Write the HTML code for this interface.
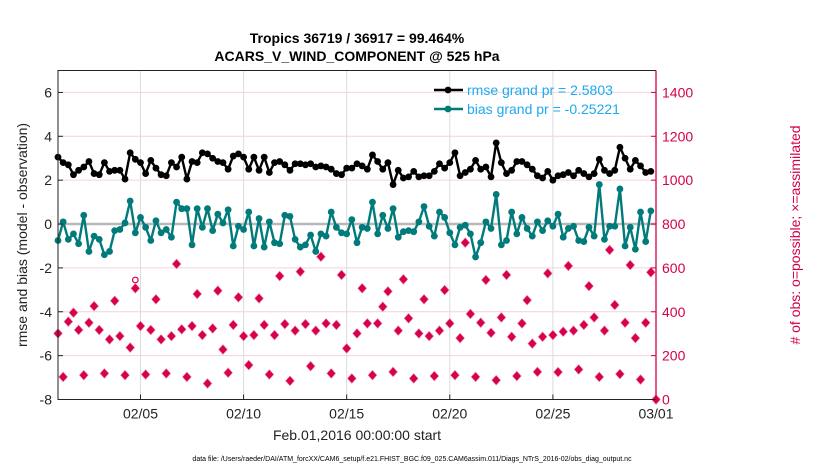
<!DOCTYPE html>
<html><head><meta charset="utf-8"><style>
html,body{margin:0;padding:0;background:#fff;}
svg{display:block;font-family:"Liberation Sans",sans-serif;}
</style></head><body>
<svg id="chart" width="830" height="470" viewBox="0 0 830 470" xmlns="http://www.w3.org/2000/svg">
<rect width="830" height="470" fill="#fff"/>
<text x="357" y="43" text-anchor="middle" font-size="14" font-weight="bold">Tropics 36719 / 36917 = 99.464%</text>
<text x="357" y="61" text-anchor="middle" font-size="14" font-weight="bold">ACARS_V_WIND_COMPONENT @ 525 hPa</text>
<g id="grid"></g>
<g id="obs"></g>
<g id="lines"></g>
<g id="axes"></g>
<g id="legend"></g>
<text transform="translate(27,235) rotate(-90)" text-anchor="middle" font-size="14" fill="#222">rmse and bias (model - observation)</text>
<text transform="translate(800,235) rotate(-90)" text-anchor="middle" font-size="14" fill="#d4004c"># of obs: o=possible; ×=assimilated</text>
<text x="357" y="440" text-anchor="middle" font-size="14" fill="#222">Feb.01,2016 00:00:00 start</text>
<text x="412" y="461" text-anchor="middle" font-size="7" fill="#000">data file: /Users/raeder/DAI/ATM_forcXX/CAM6_setup/f.e21.FHIST_BGC.f09_025.CAM6assim.011/Diags_NTrS_2016-02/obs_diag_output.nc</text>
</svg>
<script>
const rmse = [3.05,2.8,2.7,2.25,2.45,2.6,2.85,2.3,2.25,2.8,2.4,2.45,2.45,2.05,3.25,2.95,2.8,2.3,2.9,2.55,2.25,2.2,2.8,2.6,3.05,2.05,2.85,2.8,3.25,3.2,3.0,2.85,2.8,2.5,3.1,3.2,3.05,2.5,3.05,2.45,3.05,2.35,2.8,2.85,2.7,2.45,2.75,2.75,2.7,2.75,2.6,2.65,2.6,2.5,2.3,2.25,
2.55,2.55,2.75,2.65,2.5,3.15,2.85,2.5,2.8,1.8,2.45,2.1,2.15,2.4,2.15,2.2,2.2,2.4,2.75,2.55,2.8,3.25,2.2,2.35,2.5,2.9,2.5,2.6,2.15,3.7,2.8,2.3,2.45,2.85,2.85,2.7,2.5,2.2,2.1,2.4,2.0,2.2,2.25,2.35,2.2,2.45,2.3,2.15,2.3,2.95,2.45,2.3,2.45,3.5,3.0,2.5,2.9,2.65,2.35,2.4];
const bias = [-0.75,0.1,-0.7,-0.45,-0.9,0.4,-1.25,-0.55,-0.7,-1.4,-1.25,-0.3,-0.25,0.05,1.05,-0.4,0.3,-0.15,-0.75,0.15,-0.4,-0.25,-0.6,1.0,0.7,0.7,-0.95,0.7,-0.15,0.7,-0.3,0.45,0.05,0.65,-1.0,-0.1,-0.25,0.55,-1.0,0.25,-1.05,0.1,-0.85,-0.9,0.4,0.35,-0.7,-1.05,-0.95,-0.5,-1.25,-0.45,-0.55,0.55,-0.15,-0.4,
-0.45,0.2,-0.85,-0.15,-0.2,1.0,-0.45,0.4,-0.2,0.7,-0.6,-0.35,-0.3,-0.35,0.1,0.8,-0.1,-0.55,0.55,0.3,-0.4,-0.95,-0.15,-0.05,-0.45,-1.5,-0.85,0.1,-0.2,1.35,-0.95,-0.75,0.55,-0.45,0.3,-0.2,-0.55,0.1,-0.3,0.15,-0.1,0.45,-0.6,-0.2,-0.1,-0.75,-0.8,-0.15,-0.55,1.8,-0.7,-0.1,-0.1,1.6,-1.0,-0.15,-1.15,0.55,-0.8,0.6];
const obsUsed = [301,103,355,396,317,111,350,426,317,119,274,450,289,111,237,507,335,114,317,457,274,119,289,618,320,103,335,481,294,73,324,496,228,122,340,466,289,157,294,461,340,114,294,563,344,85,314,583,344,152,314,651,347,119,340,568,
233,96,301,507,347,111,347,423,493,126,314,548,370,96,301,457,289,107,314,499,347,111,280,715,390,103,350,545,304,88,374,568,286,107,347,453,255,126,286,575,294,125,309,609,314,137,340,517,374,103,314,682,431,116,350,613,280,91,350,580,0];
const obsPossible = obsUsed.map((v,i)=> i===15 ? 545 : v);
const xTickLabels = ["02/05","02/10","02/15","02/20","02/25","03/01"];
const xTickDays = [4,9,14,19,24,29];
const yTicksLeft = [-8,-6,-4,-2,0,2,4,6];
const yTicksRight = [0,200,400,600,800,1000,1200,1400];
const stepDays = 0.25;

const NS="http://www.w3.org/2000/svg";
const X0=58,X1=656,Y0=70.5,Y1=399.5;
const xs=d=>X0+(d/29)*(X1-X0);
const ys=v=>Y1-(v+8)/15*(Y1-Y0);
const yr=n=>ys(-8+n/100);
function mk(tag,attrs,parent){const e=document.createElementNS(NS,tag);for(const k in attrs)e.setAttribute(k,attrs[k]);parent.appendChild(e);return e;}
const grid=document.getElementById('grid'),axes=document.getElementById('axes'),lines=document.getElementById('lines'),obs=document.getElementById('obs'),legend=document.getElementById('legend');

xTickDays.forEach((d,i)=>{
  const g=mk('line',{x1:xs(d),x2:xs(d),y1:Y0,y2:Y1,stroke:'#dcdcdc','stroke-width':1},grid);
  
  
  const t=mk('line',{x1:xs(d),x2:xs(d),y1:Y1,y2:Y1-5,stroke:'#222','stroke-width':1},axes);
  
  
  const l=mk('text',{x:xs(d),y:Y1+19,'text-anchor':'middle','font-size':14,fill:'#222'},axes);
  l.textContent=xTickLabels[i];
  
  
});
yTicksLeft.forEach(v=>{
  if(v!==-8&&v!==0){const g=mk('line',{x1:X0,x2:X1,y1:ys(v),y2:ys(v),stroke:'#f0d4dc','stroke-width':1},grid);
  
  }
  const t=mk('line',{x1:X0,x2:X0+5,y1:ys(v),y2:ys(v),stroke:'#222'},axes);
  
  
  const l=mk('text',{x:X0-6,y:ys(v)+5,'text-anchor':'end','font-size':14,fill:'#222'},axes);
  l.textContent=v;
  
  
});
yTicksRight.forEach(n=>{
  const t=mk('line',{x1:X1,x2:X1-5,y1:yr(n),y2:yr(n),stroke:'#d4004c'},axes);
  
  
  const l=mk('text',{x:X1+6,y:yr(n)+5,'font-size':14,fill:'#d4004c'},axes);
  l.textContent=n;
  
  
});
const zl=mk('line',{x1:X0,x2:X1,y1:ys(0),y2:ys(0),stroke:'#b8b8b8','stroke-width':2.5},grid);



const ab=mk('path',{d:`M${X1},${Y0}H${X0}V${Y1}H${X1}`,fill:'none',stroke:'#222','stroke-width':1},axes);


const ar=mk('line',{x1:X1,x2:X1,y1:Y0,y2:Y1,stroke:'#d4004c','stroke-width':1.3},axes);



const red='#d6004f';
obsPossible.forEach((n,i)=>{
  const c=mk('circle',{cx:xs(i*stepDays),cy:yr(n),r:2.8,fill:'none',stroke:red,'stroke-width':1.2},obs);
  
  
});
obsUsed.forEach((n,i)=>{
  const x=xs(i*stepDays),y=yr(n);
  const p=mk('path',{d:`M${x},${y-5}L${x+4.5},${y}L${x},${y+5}L${x-4.5},${y}Z`,fill:red,stroke:'#f3a0bc','stroke-width':0.6},obs);
  
  
});

function series(vals,color,name){
  const d=vals.map((v,i)=>(i?'L':'M')+xs(i*stepDays).toFixed(2)+','+ys(v).toFixed(2)).join('');
  const pl=mk('path',{d,fill:'none',stroke:color,'stroke-width':2.4,'stroke-linejoin':'round'},lines);
  
  
  vals.forEach((v,i)=>{
    const c=mk('circle',{cx:xs(i*stepDays),cy:ys(v),r:3.4,fill:color},lines);
    
    
  });
}
series(bias,'#007a7a','bias');
series(rmse,'#000','rmse');

[['#000','rmse grand pr = 2.5803',90],['#007a7a','bias grand pr = -0.25221',109]].forEach(([c,t,y])=>{
  const ln=mk('line',{x1:434,x2:463,y1:y,y2:y,stroke:c,'stroke-width':2.4},legend);
  
  
  const dt=mk('circle',{cx:448,cy:y,r:3.4,fill:c},legend);
  
  
  const tx=mk('text',{x:467,y:y+5,'font-size':14,fill:'#1eaaf1'},legend);
  tx.textContent=t;
  
  
});
</script>
</body></html>
